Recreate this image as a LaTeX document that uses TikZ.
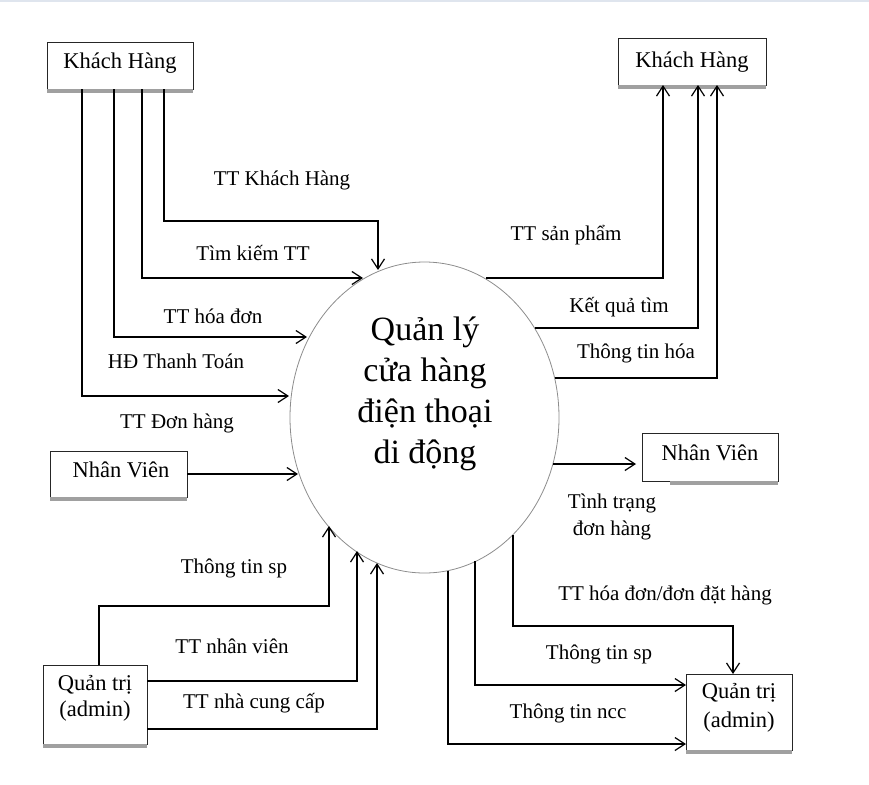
\documentclass[tikz,border=0pt]{standalone}
\usepackage{fontspec}
\setmainfont{Liberation Serif}
\usetikzlibrary{arrows.meta,shapes.geometric}
\definecolor{topline}{HTML}{DFE5EE}
\definecolor{shadowgray}{HTML}{A0A0A0}
\begin{document}
\begin{tikzpicture}[x=1pt,y=-1pt,
  box/.style={draw=black!85,line width=0.8pt,inner sep=0pt,outer sep=0pt,fill=white},
  boxtext/.style={inner sep=0pt,font=\fontsize{22.5}{27}\selectfont},
  lbl/.style={inner sep=0pt,font=\fontsize{21}{27}\selectfont},
  flow/.style={draw=black,line width=1.2pt},
  arr/.style={flow,-{Straight Barb[length=10pt,width=13pt,line width=1.2pt]}},
  shd/.style={fill=shadowgray}]
\useasboundingbox (0,0) rectangle (869,784);
\fill[topline] (0,0) rectangle (869,2);

% process
\node[ellipse,draw=black!45,line width=0.8pt,inner sep=0pt,outer sep=0pt,
  minimum width=269pt,minimum height=311pt] (E) at (424.5,417.5) {};
\node[inner sep=0pt,align=center,font=\fontsize{34}{41}\selectfont] (Et) at (425,394)
  {Quản lý\\cửa hàng\\điện thoại\\di động};

% boxes
\node[box,minimum width=146pt,minimum height=47pt] (kh1) at (120,65.5) {};
\node[box,minimum width=148pt,minimum height=47pt] (kh2) at (692,61.5) {};
\node[box,minimum width=137pt,minimum height=46pt] (nv1) at (118.5,474) {};
\node[box,minimum width=104pt,minimum height=79pt] (qt1) at (95,704.5) {};
\node[box,minimum width=136pt,minimum height=48pt] (nv2) at (710,457) {};
\node[box,minimum width=106pt,minimum height=76pt] (qt2) at (739,712) {};

\fill[shd] (kh1.south west) rectangle ([yshift=-4pt]kh1.south east);
\fill[shd] (kh2.south west) rectangle ([yshift=-4pt]kh2.south east);
\fill[shd] (nv1.south west) rectangle ([yshift=-4pt]nv1.south east);
\fill[shd] (qt1.south west) rectangle ([yshift=-4pt]qt1.south east);
\fill[shd] ([xshift=28pt]nv2.south west) rectangle ([yshift=-4pt]nv2.south east);
\fill[shd] (qt2.south west) rectangle ([yshift=-4pt]qt2.south east);

\node[boxtext,anchor=base] (kh1t) at (120,68) {Khách Hàng};
\node[boxtext,anchor=base] (kh2t) at (692,67) {Khách Hàng};
\node[boxtext,anchor=base] (nv1t) at (121,477) {Nhân Viên};
\node[boxtext,anchor=base] (nv2t) at (710,460) {Nhân Viên};
\node[boxtext,align=center,font=\fontsize{22.5}{26}\selectfont] (qt1t) at (95,698.5) {Quản trị\\(admin)};
\node[boxtext,align=center,font=\fontsize{22.5}{29}\selectfont] (qt2t) at (739,708) {Quản trị\\(admin)};

% points on the ellipse
\coordinate (e1) at (378,270);
\coordinate (e2) at (363,278);
\coordinate (e3) at (307,337);
\coordinate (e4) at (289,396);
\coordinate (e5) at (298,474);
\coordinate (e6) at (486,278);
\coordinate (e7) at (535,328);
\coordinate (e8) at (555,378);
\coordinate (e9) at (553,464);
\coordinate (e10) at (513,535);
\coordinate (e11) at (475,561);
\coordinate (e12) at (448,571);
\coordinate (e13) at (329,526);
\coordinate (e14) at (357,551);
\coordinate (e15) at (377,563);

% bends
\coordinate (b1) at (164,221);
\coordinate (b2) at (142,278);
\coordinate (b3) at (114,337);
\coordinate (b4) at (82,396);
\coordinate (b6) at (663,278);
\coordinate (b7) at (698,328);
\coordinate (b8) at (717,378);
\coordinate (b10) at (733,626);
\coordinate (b11) at (475,685);
\coordinate (b12) at (448,744);
\coordinate (b13) at (99,606);
\coordinate (b14) at (357,681);
\coordinate (b15) at (377,729);

% Khach Hang (left) -> process
\draw[arr] (kh1.south -| b1) -- (b1) -| (e1);
\draw[arr] (kh1.south -| b2) |- (e2);
\draw[arr] (kh1.south -| b3) |- (e3);
\draw[arr] (kh1.south -| b4) |- (e4);
% Nhan Vien (left) -> process
\draw[arr] (nv1.east |- e5) -- (e5);
% process -> Khach Hang (right)
\draw[arr] (e6) -| (kh2.south -| b6);
\draw[arr] (e7) -| (kh2.south -| b7);
\draw[arr] (e8) -| (kh2.south -| b8);
% process -> Nhan Vien (right)
\draw[arr] (e9) -- ([xshift=-6pt]nv2.west |- e9);
% process -> Quan tri (right)
\draw[arr] (e10) |- (b10) -- (qt2.north -| b10);
\draw[arr] (e11) -- (b11) -- (qt2.west |- b11);
\draw[arr] (e12) -- (b12) -- (qt2.west |- b12);
% Quan tri (left) -> process
\draw[arr] (qt1.north -| b13) -- (b13) -| (e13);
\draw[arr] (qt1.east |- b14) -- (b14) -- (e14);
\draw[arr] (qt1.east |- b15) -- (b15) -- (e15);

% labels
\node[lbl,anchor=base] (l1) at (282,185) {TT Khách Hàng};
\node[lbl,anchor=base] (l2) at (253,260) {Tìm kiếm TT};
\node[lbl,anchor=base] (l3) at (213,323) {TT hóa đơn};
\node[lbl,anchor=base] (l4) at (176,368) {HĐ Thanh Toán};
\node[lbl,anchor=base] (l5) at (177,428) {TT Đơn hàng};
\node[lbl,anchor=base] (l6) at (566,240) {TT sản phẩm};
\node[lbl,anchor=base] (l7) at (619,312) {Kết quả tìm};
\node[lbl,anchor=base] (l8) at (636,358) {Thông tin hóa};
\node[lbl,align=center] (l9) at (612,516.5) {Tình trạng\\đơn hàng};
\node[lbl,anchor=base] (l10) at (665,600) {TT hóa đơn/đơn đặt hàng};
\node[lbl,anchor=base] (l11) at (599,659) {Thông tin sp};
\node[lbl,anchor=base] (l12) at (568,718) {Thông tin ncc};
\node[lbl,anchor=base] (l13) at (234,573) {Thông tin sp};
\node[lbl,anchor=base] (l14) at (232,653) {TT nhân viên};
\node[lbl,anchor=base] (l15) at (254,708) {TT nhà cung cấp};
\end{tikzpicture}
\end{document}
